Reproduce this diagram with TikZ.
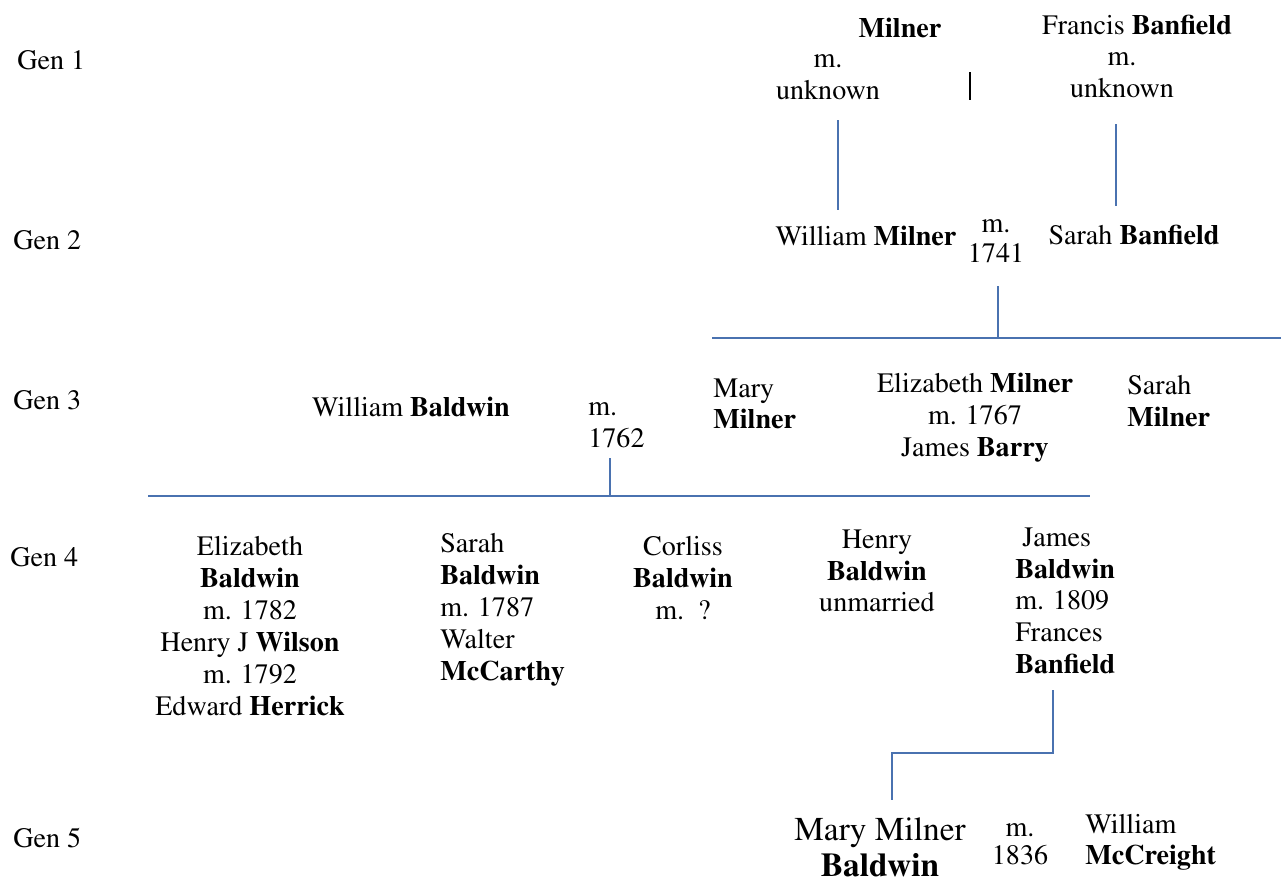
\documentclass[tikz,border=0pt]{standalone}
\usepackage[T1]{fontenc}
\renewcommand{\rmdefault}{ptm}
\usetikzlibrary{positioning, calc}
\definecolor{lineblue}{RGB}{74,114,176}
\tikzset{%
	person/.style={inner sep=0mm, align=center, font=\fontsize{16}{18.2}\selectfont},
	personl/.style={person, anchor=west, align=left},
	big/.style={person, font=\fontsize{19}{20.5}\selectfont},
	gen/.style={inner sep=0mm, anchor=west, font=\fontsize{16}{18.2}\selectfont},
	descent/.style={draw=lineblue, line width=1.1pt},
	mark1/.style={draw=black, line width=1pt}
}

\begin{document}
\begin{tikzpicture}[x=0.02cm, y=-0.02cm]
	\useasboundingbox (0,0) rectangle (1281,883);

	% generation labels
	\node[gen] (g1) at (17,60) {Gen 1};
	\node[gen] (g2) at (13,240) {Gen 2};
	\node[gen] (g3) at (13,400) {Gen 3};
	\node[gen] (g4) at (10,557) {Gen 4};
	\node[gen] (g5) at (13,838) {Gen 5};

	% gen 1
	\node[person] (milner) at (900,28) {\textbf{Milner}};
	\node[person] (milwed) at (828,77) {m.\\unknown};
	\node[person] (fban) at (1137,25) {Francis \textbf{Banfield}};
	\node[person] (banwed) at (1122,75) {m.\\unknown};
	\coordinate (tick) at (970,72);
	\draw[mark1] (tick) -- ++(0,28);

	% gen 2
	\node[person] (wmil) at (866,236) {William \textbf{Milner}};
	\node[person, font=\fontsize{16}{17}\selectfont] (wed2) at (996,241) {m.\\1741};
	\node[person] (sban) at (1134,235) {Sarah \textbf{Banfield}};

	\coordinate (d1a) at (838,120);
	\coordinate (d1b) at (838,210);
	\coordinate (d2a) at (1116,124);
	\coordinate (d2b) at (1116,206);
	\draw[descent] (d1a) -- (d1b);
	\draw[descent] (d2a) -- (d2b);

	\coordinate (bar2l) at (712,338);
	\coordinate (bar2r) at (1281,338);
	\coordinate (bar2m) at (998,286);
	\draw[descent] (bar2m) -- (bar2m |- bar2l);
	\draw[descent] (bar2l) -- (bar2r);

	% gen 3
	\node[person] (wbal) at (411,407) {William \textbf{Baldwin}};
	\node[personl] (wed3) at (588,425) {m.\\1762};
	\node[personl] (mmil) at (713,404) {Mary\\\textbf{Milner}};
	\node[person] (emil) at (975,418) {Elizabeth \textbf{Milner}\\m. 1767\\James \textbf{Barry}};
	\node[personl] (smil) at (1127,401) {Sarah\\\textbf{Milner}};

	\coordinate (bar3l) at (148,496);
	\coordinate (bar3r) at (1090,496);
	\coordinate (bar3m) at (610,458);
	\draw[descent] (bar3m) -- (bar3m |- bar3l);
	\draw[descent] (bar3l) -- (bar3r);

	% gen 4
	\node[person] (ebal) at (250,626) {Elizabeth\\\textbf{Baldwin}\\m. 1782\\Henry J \textbf{Wilson}\\m. 1792\\Edward \textbf{Herrick}};
	\node[personl] (sbal) at (440,610) {Sarah\\\textbf{Baldwin}\\m. 1787\\Walter\\\textbf{McCarthy}};
	\node[person] (cbal) at (683,578) {Corliss\\\textbf{Baldwin}\\m.\ \ ?};
	\node[person] (hbal) at (877,571) {Henry\\\textbf{Baldwin}\\unmarried};
	\node[personl] (jbal) at (1015,601) {\ James\\\textbf{Baldwin}\\m. 1809\\Frances\\\textbf{Banfield}};

	% gen 5
	\node[big] (mbal) at (880,847) {Mary Milner\\\textbf{Baldwin}};
	\node[person, font=\fontsize{16}{16}\selectfont] (wed5) at (1020,844) {m.\\1836};
	\node[personl, font=\fontsize{16}{17.6}\selectfont] (wmcc) at (1085,842) {William\\\textbf{McCreight}};

	\coordinate (d4a) at (1053,690);
	\coordinate (d4b) at (892,800);
	\draw[descent] (d4a) -- ++(0,63) -| (d4b);
\end{tikzpicture}
\end{document}
